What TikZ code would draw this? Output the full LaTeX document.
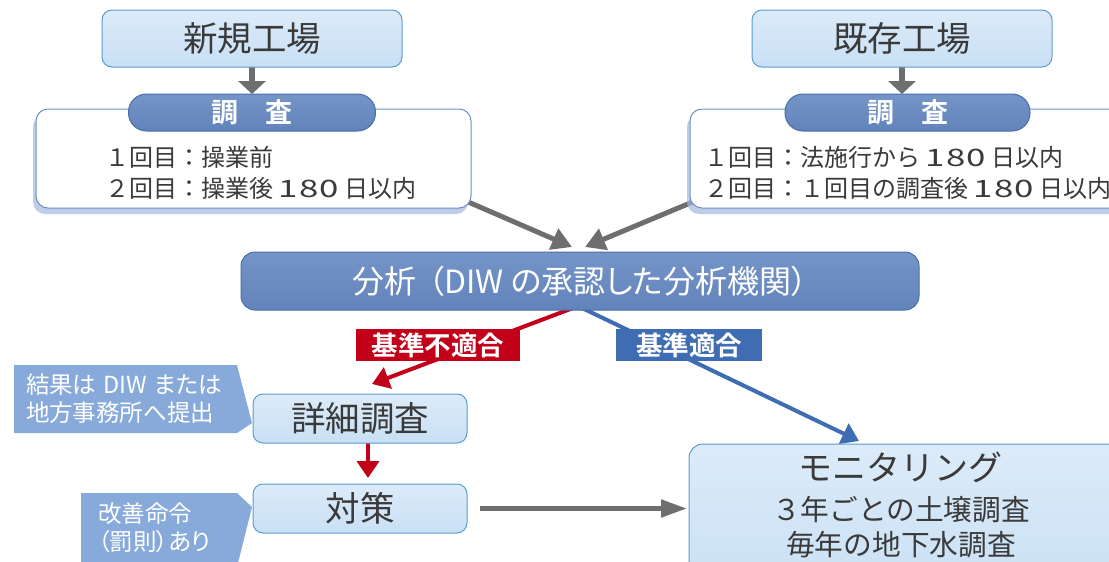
\documentclass[tikz,border=0pt]{standalone}
\usepackage{fontspec}
\setmainfont{Noto Sans CJK JP}[BoldFont={* Bold}]
\usetikzlibrary{arrows.meta,shadows,backgrounds}
\definecolor{txt}{HTML}{3A3A3A}
\definecolor{lbtop}{HTML}{DCEBF9}
\definecolor{lbbot}{HTML}{C8E0F4}
\definecolor{lbdraw}{HTML}{5A9BD0}
\definecolor{pilltop}{HTML}{7595C8}
\definecolor{pillbot}{HTML}{6283BA}
\definecolor{pilldraw}{HTML}{4A6EA8}
\definecolor{wdraw}{HTML}{6D8EC5}
\definecolor{shadc}{HTML}{A3B8DE}
\definecolor{grayc}{HTML}{6E6E6E}
\definecolor{redc}{HTML}{C20019}
\definecolor{bluec}{HTML}{3F6DB4}
\definecolor{callc}{HTML}{88AADA}
\newcommand{\wdig}{\scalebox{1.45}[1]{1\kern1pt8\kern1pt0}}
\newcommand{\palt}{\addfontfeatures{RawFeature=+palt}}
\begin{document}
\begin{tikzpicture}[x=1pt,y=-1pt,
  every node/.style={inner sep=0pt,outer sep=0pt,text=txt},
  lbbox/.style={draw=lbdraw,line width=1pt,rounded corners=10pt,top color=lbtop,bottom color=lbbot},
  pillbox/.style={draw=pilldraw,line width=1pt,rounded corners=18pt,top color=pilltop,bottom color=pillbot,text=white,font=\bfseries\fontsize{27}{30}\selectfont},
  wbox/.style={draw=wdraw,line width=1pt,rounded corners=12pt,fill=white,drop shadow={shadow xshift=-3pt,shadow yshift=-6pt,fill=shadc,opacity=0.7}},
  bigtxt/.style={font=\fontsize{34.5}{40}\selectfont},
  bodytxt/.style={font=\fontsize{24}{31}\selectfont,align=left,anchor=west},
  calltxt/.style={text=white,font=\fontsize{23.5}{28}\selectfont\palt,align=left,anchor=west},
  labbox/.style={text=white,font=\bfseries\fontsize{26.5}{30}\selectfont,minimum height=32pt},
  downarrow/.style={draw=grayc,line width=6pt,-{Triangle[length=13pt,width=27pt]}},
  garrow/.style={draw=grayc,line width=5pt,-{Triangle[length=20pt,width=22pt]}},
  harrow/.style={draw=grayc,line width=5pt,-{Triangle[length=26pt,width=17pt]}},
  rarrow/.style={draw=redc,line width=4pt,-{Triangle[length=17pt,width=22pt]}},
  barrow/.style={draw=bluec,line width=4pt,-{Triangle[length=17pt,width=22pt]}},
]
\useasboundingbox (0,0) rectangle (1109,562);
\begin{scope}
\clip (0,0) rectangle (1109,562);
% top boxes
\node[lbbox,bigtxt,minimum width=300pt,minimum height=57pt] (shin) at (252,38.5) {新規工場};
\node[lbbox,bigtxt,minimum width=300pt,minimum height=57pt] (kison) at (902,38.5) {既存工場};
% survey boxes
\node[wbox,minimum width=435pt,minimum height=99pt] (lbox) at (253.5,158.5) {};
\node[wbox,minimum width=450pt,minimum height=99pt] (rbox) at (915,158.5) {};
\node[pillbox,minimum width=247pt,minimum height=37pt] (pillL) at (252,112.5) {調　査};
\node[pillbox,minimum width=245pt,minimum height=37pt] (pillR) at (907.5,112.5) {調　査};
\node[bodytxt] (ltxt) at (105,172.5) {１回目：操業前\\２回目：操業後 \wdig{} 日以内};
\node[bodytxt] (rtxt) at (704,172.5) {１回目：法施行から \wdig{} 日以内\\２回目：１回目の調査後 \wdig{} 日以内};
% analysis
\node[pillbox,rounded corners=14pt,font=\fontsize{32}{36}\selectfont\palt,minimum width=678pt,minimum height=58pt] (ana) at (580,281) {分析\hspace{0.35em}（DIW の承認した分析機関）};
% lower boxes
\node[lbbox,bigtxt,minimum width=214pt,minimum height=49pt] (det) at (360,418.5) {詳細調査};
\node[lbbox,bigtxt,minimum width=214pt,minimum height=49pt] (tai) at (360,508.5) {対策};
\node[lbbox,rounded corners=14pt,minimum width=451pt,minimum height=156pt] (mon) at (914.5,522) {};
\node[font=\fontsize{34}{40}\selectfont] (m1) at (900,467) {モニタリング};
\node[font=\fontsize{28.7}{32}\selectfont] (m2) at (901,510) {３年ごとの土壌調査};
\node[font=\fontsize{28.7}{32}\selectfont] (m3) at (901,545) {毎年の地下水調査};
% callouts
\fill[callc] (14,365) -- (237,365) -- (252,423) -- (237,433) -- (14,433) -- cycle;
\node[calltxt] (c1) at (26,399) {結果は\hspace{0.3em}DIW\hspace{0.3em}または\\地方事務所へ提出};
\fill[callc] (81,493) -- (237,493) -- (252,507) -- (235,575) -- (81,575) -- cycle;
\node[calltxt] (c2) at (98,528) {改善命令\\（罰則）あり};
\end{scope}
% connectors
\begin{scope}[on background layer]
\draw[downarrow] (shin.south) -- (pillL.north);
\draw[downarrow] (kison.south) -- (kison.south |- pillR.north);
\draw[garrow] ([xshift=-5pt,yshift=7pt]lbox.south east) -- ([xshift=-8pt,yshift=5pt]ana.north);
\draw[garrow] ([xshift=5pt,yshift=7pt]rbox.south west) -- ([xshift=5pt,yshift=5pt]ana.north);
\draw[rarrow] ([xshift=-7pt,yshift=2pt]ana.south) -- ([xshift=12pt,yshift=10pt]det.north);
\draw[barrow] ([xshift=2pt,yshift=2pt]ana.south) -- ([xshift=-55.5pt,yshift=3pt]mon.north);
\draw[rarrow] ([xshift=8pt]det.south) -- ([xshift=8pt,yshift=6pt]tai.north);
\draw[harrow] ([xshift=13pt]tai.east) -- ([xshift=-2pt]mon.west |- tai.east);
\end{scope}
% labels over connectors
\node[labbox,fill=redc,minimum width=164pt] (rl) at (438,345) {基準不適合};
\node[labbox,fill=bluec,minimum width=146pt] (bl) at (689,345) {基準適合};
\end{tikzpicture}
\end{document}
